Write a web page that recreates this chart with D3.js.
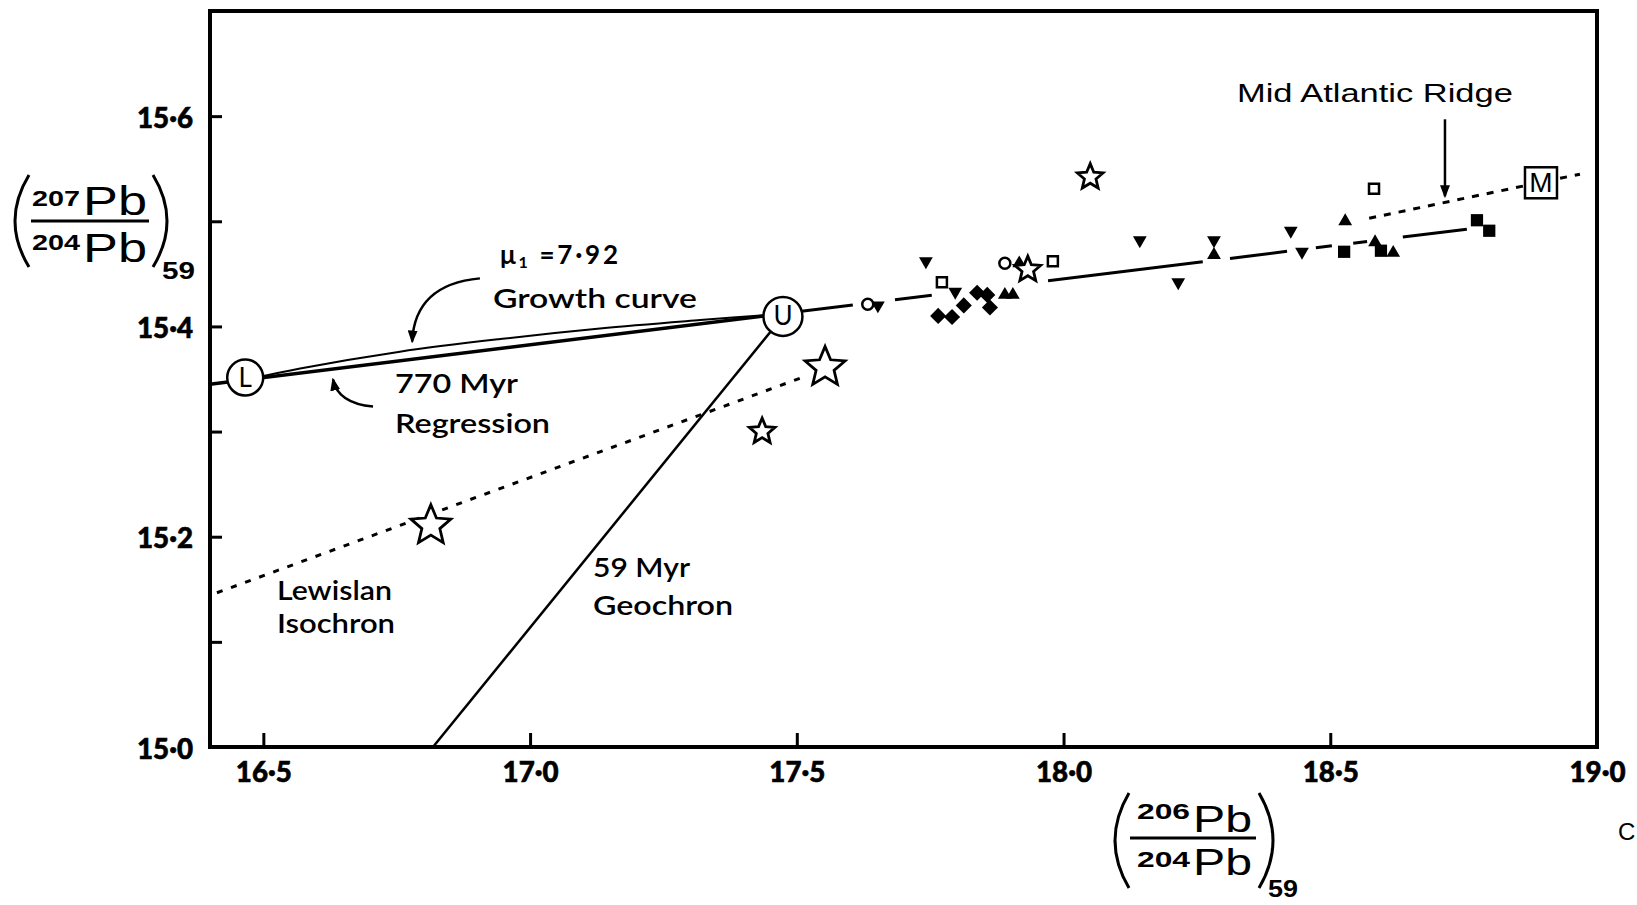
<!DOCTYPE html>
<html><head><meta charset="utf-8">
<script src="https://cdn.jsdelivr.net/npm/d3@7"></script>
<style>html,body{margin:0;padding:0;background:#fff;overflow:hidden}</style>
</head><body>
<svg id="chart" width="1637" height="905" xmlns="http://www.w3.org/2000/svg"></svg>
<script>
// ---------------- data ----------------
const xTickValues = [16.5, 17.0, 17.5, 18.0, 18.5, 19.0];
const xTickLabels = ["16·5", "17·0", "17·5", "18·0", "18·5", "19·0"];
const yTickValues = [15.0, 15.1, 15.2, 15.3, 15.4, 15.5, 15.6];
const yTickLabels = ["15·0", "", "15·2", "", "15·4", "", "15·6"];

// 770 Myr regression line (end points) and the x-ranges where it is drawn
const regressionEnds = [[16.40, 15.345], [18.756, 15.4925]];
const regressionSegments = [[16.40, 17.474], [17.474, 17.605], [17.684, 17.753], [17.971, 18.261],
                            [18.312, 18.419], [18.473, 18.503], [18.543, 18.569], [18.636, 18.756]];
// mu1 = 7.92 growth curve from L to U
const growthCurve = [[16.466, 15.349], [16.569, 15.360], [16.756, 15.376], [16.944, 15.388],
                     [17.131, 15.398], [17.319, 15.406], [17.474, 15.412]];
// 59 Myr geochron
const geochron = [[17.474, 15.4095], [16.818, 15.0]];
// Lewisian isochron (dotted)
const lewisianIsochron = [[16.413, 15.1467], [17.515, 15.3524]];
// Mid Atlantic Ridge trend (dotted)
const marLine = [[18.573, 15.5029], [18.968, 15.5448]];

// named points
const pointL = [16.466, 15.3514];
const pointU = [17.474, 15.4095];
const pointM = [18.895, 15.5371];

// sample symbols
const openCircles = [[17.633, 15.421], [17.890, 15.460]];
const openSquares = [[17.772, 15.442], [17.980, 15.462], [18.582, 15.531]];
const downTriangles = [[17.652, 15.420], [17.742, 15.462], [17.797, 15.433], [18.143, 15.482],
                       [18.215, 15.442], [18.282, 15.482], [18.426, 15.491], [18.447, 15.471]];
const upTriangles = [[17.890, 15.430], [17.905, 15.430], [17.917, 15.460], [18.282, 15.468],
                     [18.528, 15.500], [18.584, 15.480], [18.618, 15.470]];
const filledSquares = [[18.526, 15.471], [18.595, 15.472], [18.775, 15.501], [18.798, 15.491]];
const filledDiamonds = [[17.765, 15.410], [17.791, 15.409], [17.813, 15.420], [17.838, 15.432],
                        [17.857, 15.430], [17.862, 15.418]];
const starsLarge = [[16.814, 15.2105], [17.553, 15.361]];
const starsSmall = [[17.435, 15.300], [18.050, 15.542], [17.933, 15.454]];

// ---------------- chart ----------------
const svg = d3.select("#chart");
const x = d3.scaleLinear().domain([16.4, 19.0]).range([210, 1597]);
const y = d3.scaleLinear().domain([15.0, 15.7]).range([747, 11]);
const line = d3.line().x(d => x(d[0])).y(d => y(d[1]));
const annFont = "Lato, 'Open Sans', sans-serif";
const helv = "'Liberation Sans', Arial, sans-serif";

const defs = svg.append("defs");
defs.append("marker").attr("id", "ah").attr("viewBox", "0 -5 13 10").attr("refX", 11).attr("refY", 0)
  .attr("markerWidth", 13).attr("markerHeight", 10).attr("markerUnits", "userSpaceOnUse").attr("orient", "auto")
  .append("path").attr("d", "M0,-5L13,0L0,5Z").attr("fill", "#000");

// frame
svg.append("rect").attr("x", x(16.4)).attr("y", y(15.7))
  .attr("width", x(19.0) - x(16.4)).attr("height", y(15.0) - y(15.7))
  .attr("fill", "none").attr("stroke", "#000").attr("stroke-width", 4);

// axes
const gx = svg.append("g").attr("transform", `translate(0,${y(15.0)})`)
  .call(d3.axisBottom(x).tickValues(xTickValues).tickSizeInner(-14).tickSizeOuter(0).tickPadding(15)
    .tickFormat((d, i) => xTickLabels[i]));
gx.select(".domain").remove();
gx.selectAll(".tick line").attr("stroke", "#000").attr("stroke-width", 3);
gx.selectAll(".tick text").attr("font-family", annFont).attr("font-weight", 900).attr("font-size", 28)
  .attr("fill", "#000").attr("stroke", "#000").attr("stroke-width", 0.6)
  .attr("textLength", 56).attr("lengthAdjust", "spacingAndGlyphs");

const gy = svg.append("g").attr("transform", `translate(${x(16.4)},0)`)
  .call(d3.axisLeft(y).tickValues(yTickValues).tickSizeInner(-12).tickSizeOuter(0).tickPadding(17)
    .tickFormat((d, i) => yTickLabels[i]));
gy.select(".domain").remove();
gy.selectAll(".tick line").attr("stroke", "#000").attr("stroke-width", 3);
gy.selectAll(".tick text").attr("font-family", annFont).attr("font-weight", 900).attr("font-size", 28)
  .attr("fill", "#000").attr("stroke", "#000").attr("stroke-width", 0.6).attr("dy", "0.4em")
  .attr("textLength", d => yTickLabels[yTickValues.indexOf(d)] ? 56 : null).attr("lengthAdjust", "spacingAndGlyphs");

// regression line
const regY = xv => regressionEnds[0][1] + (xv - regressionEnds[0][0]) *
  (regressionEnds[1][1] - regressionEnds[0][1]) / (regressionEnds[1][0] - regressionEnds[0][0]);
svg.append("g").selectAll("path").data(regressionSegments).join("path")
  .attr("d", s => line([[s[0], regY(s[0])], [s[1], regY(s[1])]]))
  .attr("fill", "none").attr("stroke", "#000").attr("stroke-width", (s, i) => i === 0 ? 3.5 : 3);

// growth curve
svg.append("path").attr("d", line.curve(d3.curveCatmullRom)(growthCurve))
  .attr("fill", "none").attr("stroke", "#000").attr("stroke-width", 2);
line.curve(d3.curveLinear);

// geochron
svg.append("path").attr("d", line(geochron)).attr("fill", "none").attr("stroke", "#000").attr("stroke-width", 2.5);
// Lewisian isochron
svg.append("path").attr("d", line(lewisianIsochron)).attr("fill", "none").attr("stroke", "#000")
  .attr("stroke-width", 3).attr("stroke-dasharray", "6 9");
// MAR line
svg.append("path").attr("d", line(marLine)).attr("fill", "none").attr("stroke", "#000")
  .attr("stroke-width", 3).attr("stroke-dasharray", "7 8");

// symbols
const starType = {
  draw(ctx, r) {
    for (let i = 0; i < 10; i++) {
      const a = -Math.PI / 2 + i * Math.PI / 5;
      const rr = i % 2 ? r * 0.45 : r;
      if (i === 0) ctx.moveTo(rr * Math.cos(a), rr * Math.sin(a)); else ctx.lineTo(rr * Math.cos(a), rr * Math.sin(a));
    }
    ctx.closePath();
  }
};
function plot(data, type, size, opts) {
  svg.append("g").selectAll("path").data(data).join("path")
    .attr("transform", d => `translate(${x(d[0])},${y(d[1])}) rotate(${opts.rot || 0})`)
    .attr("d", d3.symbol().type(type).size(size))
    .attr("fill", opts.fill).attr("stroke", opts.stroke || "none").attr("stroke-width", opts.sw || 0)
    .attr("stroke-linejoin", "miter");
}
plot(filledDiamonds, d3.symbolSquare, 130, {fill: "#000", rot: 45});
plot(downTriangles, d3.symbolTriangle, 82, {fill: "#000", rot: 180});
plot(upTriangles, d3.symbolTriangle, 82, {fill: "#000"});
plot(filledSquares, d3.symbolSquare, 150, {fill: "#000"});
plot(openCircles, d3.symbolCircle, 95, {fill: "#fff", stroke: "#000", sw: 2.5});
plot(openSquares, d3.symbolSquare, 100, {fill: "#fff", stroke: "#000", sw: 2.5});
plot(starsLarge, starType, 21, {fill: "#fff", stroke: "#000", sw: 2.8});
plot(starsSmall, starType, 13.5, {fill: "#fff", stroke: "#000", sw: 2.8});

// L and U circles, M box
[[pointL, "L", 18], [pointU, "U", 19.5]].forEach(([p, t, r]) => {
  svg.append("circle").attr("cx", x(p[0])).attr("cy", y(p[1])).attr("r", r)
    .attr("fill", "#fff").attr("stroke", "#000").attr("stroke-width", 2.5);
  svg.append("text").attr("x", x(p[0])).attr("y", y(p[1]) + 9).attr("text-anchor", "middle")
    .attr("font-family", annFont).attr("font-size", 26).text(t);
});
svg.append("rect").attr("x", x(pointM[0]) - 16).attr("y", y(pointM[1]) - 15).attr("width", 32).attr("height", 31)
  .attr("fill", "#fff").attr("stroke", "#000").attr("stroke-width", 2.5);
svg.append("text").attr("x", x(pointM[0])).attr("y", y(pointM[1]) + 10).attr("text-anchor", "middle")
  .attr("font-family", helv).attr("font-size", 28).text("M");

// annotation texts (anchored in data units)
const notes = [
  {t: "Growth  curve", p: [16.9305, 15.418], w: 204},
  {t: "770 Myr", p: [16.7468, 15.337], w: 123},
  {t: "Regression", p: [16.7468, 15.299], w: 155},
  {t: "59 Myr", p: [17.118, 15.162], w: 97},
  {t: "Geochron", p: [17.118, 15.1257], w: 140},
  {t: "Lewislan", p: [16.5256, 15.140], w: 115},
  {t: "Isochron", p: [16.5256, 15.1086], w: 118}
];
svg.append("g").selectAll("text").data(notes).join("text")
  .attr("x", d => x(d.p[0])).attr("y", d => y(d.p[1]))
  .attr("font-family", annFont).attr("font-weight", 600).attr("font-size", 26)
  .attr("textLength", d => d.w).attr("lengthAdjust", "spacingAndGlyphs").text(d => d.t);

const mu = svg.append("text").attr("x", x(16.9436)).attr("y", y(15.459))
  .attr("font-family", annFont).attr("font-weight", 700).attr("font-size", 26)
  .attr("textLength", 118).attr("lengthAdjust", "spacing");
mu.append("tspan").text("μ");
mu.append("tspan").attr("dy", 4).attr("font-size", 16).text("1");
mu.append("tspan").attr("dy", -4).text(" =7·92");

svg.append("text").attr("x", x(18.325)).attr("y", y(15.6133)).attr("font-family", helv).attr("font-size", 25)
  .attr("textLength", 276).attr("lengthAdjust", "spacingAndGlyphs").text("Mid  Atlantic  Ridge");

// arrows
const arrows = [
  {s: [16.906, 15.4457], c: [16.784, 15.440], e: [16.779, 15.3857]},
  {s: [16.7056, 15.3238], c: [16.640, 15.3267], e: [16.6306, 15.3495]},
  {s: [18.715, 15.597], c: [18.715, 15.56], e: [18.715, 15.5238]}
];
svg.append("g").selectAll("path").data(arrows).join("path")
  .attr("d", a => { const p = d3.path(); p.moveTo(x(a.s[0]), y(a.s[1]));
    p.quadraticCurveTo(x(a.c[0]), y(a.c[1]), x(a.e[0]), y(a.e[1])); return p.toString(); })
  .attr("fill", "none").attr("stroke", "#000").attr("stroke-width", 2.5).attr("marker-end", "url(#ah)");

// axis titles
function paren(g, x0, y0, y1, bulge) {
  const p = d3.path(); p.moveTo(x0, y0); p.quadraticCurveTo(x0 + bulge, (y0 + y1) / 2, x0, y1);
  g.append("path").attr("d", p.toString()).attr("fill", "none").attr("stroke", "#000").attr("stroke-width", 3);
}
function fracTitle(o) {
  const g = svg.append("g");
  paren(g, o.lp, o.top, o.bot, -28);
  paren(g, o.rp, o.top, o.bot, 28);
  g.append("line").attr("x1", o.bx0).attr("x2", o.bx1).attr("y1", o.bar).attr("y2", o.bar)
    .attr("stroke", "#000").attr("stroke-width", 3);
  const txt = (t, xx, yy, fs, w, fw) => g.append("text").attr("x", xx).attr("y", yy).attr("font-family", helv)
    .attr("font-size", fs).attr("font-weight", fw || 400).attr("textLength", w)
    .attr("lengthAdjust", "spacingAndGlyphs").text(t);
  txt(o.num, o.sx, o.nsb, o.sfs, o.sw, 700);
  txt("Pb", o.px, o.npb, o.pfs, o.pw);
  txt("204", o.sx, o.dsb, o.sfs, o.sw, 700);
  txt("Pb", o.px, o.dpb, o.pfs, o.pw);
  txt("59", o.subx, o.subb, o.sfs + 2, o.subw, 700);
}
fracTitle({lp: 29, rp: 153, top: 175, bot: 267, bx0: 31, bx1: 149, bar: 221, num: "207", sx: 32, nsb: 206,
  sfs: 22, sw: 48, px: 83, npb: 215, pfs: 40, pw: 64, dsb: 250, dpb: 262, subx: 162, subb: 279, subw: 33});
fracTitle({lp: 1129, rp: 1259, top: 793, bot: 888, bx0: 1130, bx1: 1256, bar: 838, num: "206", sx: 1137, nsb: 819,
  sfs: 22, sw: 53, px: 1193, npb: 832, pfs: 36, pw: 59, dsb: 867, dpb: 875, subx: 1268, subb: 897, subw: 30});

// fragment at the right edge
svg.append("text").attr("x", 1618).attr("y", 840).attr("font-family", helv).attr("font-size", 24).text("C");
</script>
</body></html>
